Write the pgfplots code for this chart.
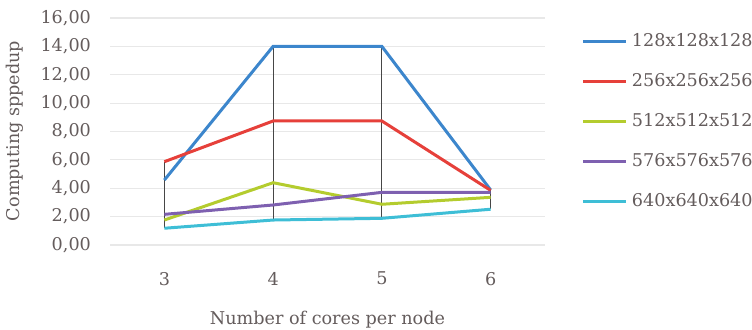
\documentclass[border=0pt]{standalone}
\usepackage{fontspec}
\setmainfont{DejaVu Serif}
\usepackage{pgfplots}
\pgfplotsset{compat=1.18}

\definecolor{txt}{RGB}{100,92,92}
\definecolor{gridc}{RGB}{232,232,232}
\definecolor{sBlue}{RGB}{60,134,204}
\definecolor{sRed}{RGB}{230,64,58}
\definecolor{sGreen}{RGB}{180,204,46}
\definecolor{sPurple}{RGB}{126,96,176}
\definecolor{sCyan}{RGB}{62,190,214}
\definecolor{hilo}{RGB}{70,70,70}

\begin{document}
\begin{tikzpicture}
\path[use as bounding box] (-55pt,-42.5pt) rectangle (321pt,122.5pt);
\begin{axis}[
  at={(0,0)}, anchor=south west,
  scale only axis, width=217.5pt, height=113.5pt,
  xmin=2.5, xmax=6.5, ymin=0, ymax=16,
  xtick={3,4,5,6},
  ytick={0,2,...,16},
  axis line style={draw=none},
  major tick length=0pt,
  ymajorgrids, grid style={draw=gridc, line width=0.6pt},
  font=\fontsize{8.8}{10}\selectfont,
  tick label style={txt},
  /pgf/number format/assume math mode=true,
  yticklabel style={/pgf/number format/fixed, /pgf/number format/fixed zerofill,
    /pgf/number format/precision=2, /pgf/number format/use comma, xshift=-6pt},
  xticklabel style={/pgf/number format/fixed, /pgf/number format/precision=0, yshift=-10pt},
  xlabel={Number of cores per node},
  ylabel={Computing sppedup},
  label style={txt},
  xlabel style={at={(108.75pt,-37.5pt)}, anchor=center},
  ylabel style={at={(-47.5pt,57pt)}, anchor=center},
  legend style={at={(236pt,108pt)}, anchor=north west, draw=none, fill=none,
    font=\fontsize{8.8}{10}\selectfont, text=txt,
    row sep=8.0pt, inner sep=0pt, outer sep=0pt,
    /tikz/every even column/.append style={column sep=1pt}},
  legend cell align=left,
  legend image code/.code={\draw[#1, line width=1.5pt] (0pt,0pt) -- (21.5pt,0pt);},
  unbounded coords=jump,
  every axis plot/.append style={line width=1.5pt},
]
% high-low lines between the largest and smallest series at each core count
\addplot[hilo, line width=0.5pt, forget plot] coordinates {
  (3,5.87) (3,1.18) (3,nan)
  (4,14.00) (4,1.76) (4,nan)
  (5,14.00) (5,1.88) (5,nan)
  (6,3.88) (6,2.52)
};
\addplot[sBlue] coordinates {(3,4.58) (4,14.00) (5,14.00) (6,3.88)};
\addlegendentry{128x128x128}
\addplot[sRed] coordinates {(3,5.87) (4,8.74) (5,8.74) (6,3.85)};
\addlegendentry{256x256x256}
\addplot[sGreen] coordinates {(3,1.76) (4,4.39) (5,2.87) (6,3.36)};
\addlegendentry{512x512x512}
\addplot[sPurple] coordinates {(3,2.16) (4,2.82) (5,3.71) (6,3.71)};
\addlegendentry{576x576x576}
\addplot[sCyan] coordinates {(3,1.18) (4,1.76) (5,1.88) (6,2.52)};
\addlegendentry{640x640x640}
\end{axis}
\end{tikzpicture}
\end{document}
